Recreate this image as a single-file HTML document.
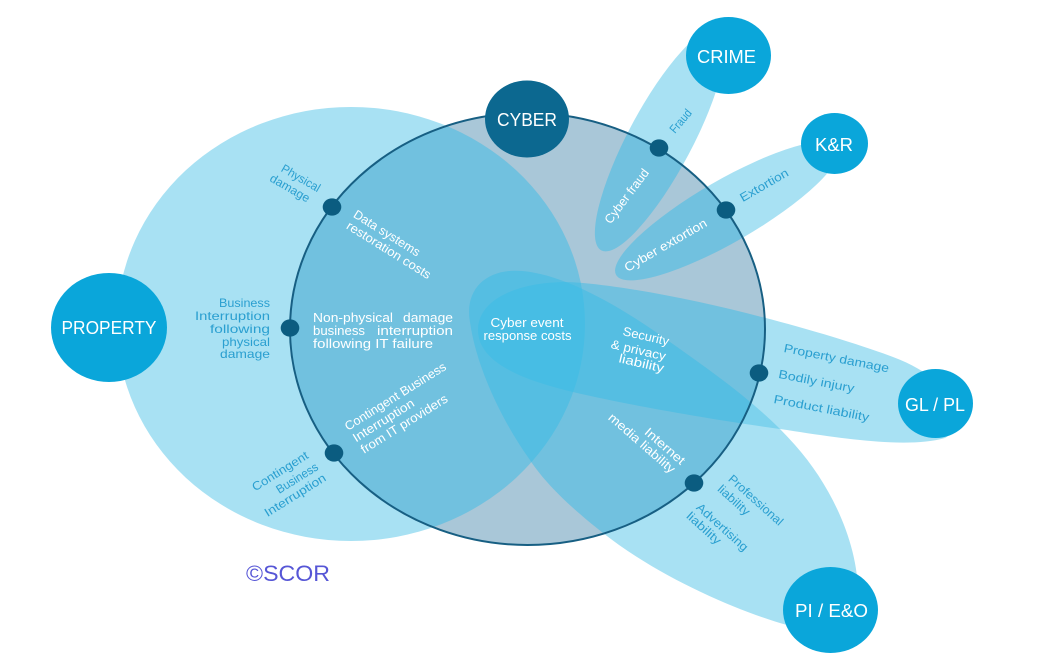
<!DOCTYPE html>
<html>
<head>
<meta charset="utf-8">
<style>
  html,body{margin:0;padding:0;background:#fff;}
  svg{display:block;}
  .tl{font-family:"Liberation Sans",sans-serif;font-size:12px;fill:#2a9fd0;text-anchor:middle;}
  .tr{font-family:"Liberation Sans",sans-serif;font-size:12px;fill:#2a9fd0;text-anchor:end;}
  .wl{font-family:"Liberation Sans",sans-serif;font-size:12.5px;fill:#ffffff;text-anchor:middle;}
  .ws{font-family:"Liberation Sans",sans-serif;font-size:12.5px;fill:#ffffff;text-anchor:start;}
  .we{font-family:"Liberation Sans",sans-serif;font-size:12.5px;fill:#ffffff;text-anchor:end;}
  .big{font-family:"Liberation Sans",sans-serif;font-size:18px;fill:#ffffff;text-anchor:middle;}
</style>
</head>
<body>
<svg width="1038" height="665" viewBox="0 0 1038 665" xmlns="http://www.w3.org/2000/svg">
  <defs>
    <clipPath id="cy"><ellipse cx="527.5" cy="329" rx="237.5" ry="216"/></clipPath>
  </defs>
  <rect x="0" y="0" width="1038" height="665" fill="#ffffff"/>

  <!-- outer shapes -->
  <g fill="#51c3e7" fill-opacity="0.5">
    <ellipse cx="351" cy="324" rx="234" ry="217"/>
    <ellipse cx="660" cy="140" rx="125" ry="32" transform="rotate(-62 660 140)"/>
    <ellipse cx="727" cy="211" rx="128" ry="31" transform="rotate(-30 727 211)"/>
    <path d="M 478,330 C 478,295 530,278 583,283 C 680,292 820,330 893,357 C 950,378 975,420 945,438 C 910,448 850,440 787,430 C 700,418 620,403 577,393 C 530,382 478,365 478,330 Z"/>
    <path d="M 470,322 C 464,288 488,268 522,271 C 560,274 610,300 660,335 C 710,370 760,405 795,445 C 835,490 860,550 858,600 C 856,645 825,648 787,625 C 740,612 660,578 603,533 C 565,503 543,480 530,460 C 500,418 476,365 470,322 Z"/>
  </g>

  <!-- cyber base -->
  <ellipse cx="527.5" cy="329" rx="237.5" ry="216" fill="#a9c7d8"/>

  <!-- inner shapes -->
  <g clip-path="url(#cy)" fill="#39bbe6" fill-opacity="0.5">
    <ellipse cx="351" cy="324" rx="234" ry="217"/>
    <ellipse cx="660" cy="140" rx="125" ry="32" transform="rotate(-62 660 140)"/>
    <ellipse cx="727" cy="211" rx="128" ry="31" transform="rotate(-30 727 211)"/>
    <path d="M 478,330 C 478,295 530,278 583,283 C 680,292 820,330 893,357 C 950,378 975,420 945,438 C 910,448 850,440 787,430 C 700,418 620,403 577,393 C 530,382 478,365 478,330 Z"/>
    <path d="M 470,322 C 464,288 488,268 522,271 C 560,274 610,300 660,335 C 710,370 760,405 795,445 C 835,490 860,550 858,600 C 856,645 825,648 787,625 C 740,612 660,578 603,533 C 565,503 543,480 530,460 C 500,418 476,365 470,322 Z"/>
  </g>

  <!-- cyber outline -->
  <ellipse cx="527.5" cy="329" rx="237.5" ry="216" fill="none" stroke="#175f83" stroke-width="2"/>

  <!-- teal outside labels -->
  <text class="tl" transform="translate(301,178) rotate(30)" y="4.2" textLength="43" lengthAdjust="spacingAndGlyphs">Physical</text>
  <text class="tl" transform="translate(290,188) rotate(30)" y="4.2" textLength="44" lengthAdjust="spacingAndGlyphs">damage</text>

  <text class="tr" x="270" y="307" textLength="51" lengthAdjust="spacingAndGlyphs">Business</text>
  <text class="tr" x="270" y="320" textLength="75" lengthAdjust="spacingAndGlyphs">Interruption</text>
  <text class="tr" x="270" y="333" textLength="60" lengthAdjust="spacingAndGlyphs">following</text>
  <text class="tr" x="270" y="346" textLength="48" lengthAdjust="spacingAndGlyphs">physical</text>
  <text class="tr" x="270" y="358" textLength="50" lengthAdjust="spacingAndGlyphs">damage</text>

  <text class="tl" transform="translate(280,471) rotate(-32)" y="4.2" textLength="64" lengthAdjust="spacingAndGlyphs">Contingent</text>
  <text class="tl" transform="translate(297,478) rotate(-32)" y="4.2" textLength="47" lengthAdjust="spacingAndGlyphs">Business</text>
  <text class="tl" transform="translate(295,495) rotate(-32)" y="4.2" textLength="70" lengthAdjust="spacingAndGlyphs">Interruption</text>

  <text class="tl" transform="translate(680.5,121) rotate(-50)" y="4.2" textLength="27" lengthAdjust="spacingAndGlyphs">Fraud</text>
  <text class="tl" transform="translate(764,185) rotate(-30)" y="4.2" textLength="54" lengthAdjust="spacingAndGlyphs">Extortion</text>

  <text class="tl" transform="translate(836.5,358) rotate(11)" y="4.2" textLength="107" lengthAdjust="spacingAndGlyphs">Property damage</text>
  <text class="tl" transform="translate(816.5,381) rotate(11)" y="4.2" textLength="77" lengthAdjust="spacingAndGlyphs">Bodily injury</text>
  <text class="tl" transform="translate(821.5,408) rotate(11)" y="4.2" textLength="97" lengthAdjust="spacingAndGlyphs">Product liability</text>

  <text class="tl" transform="translate(756,500) rotate(42)" y="4.2" textLength="69" lengthAdjust="spacingAndGlyphs">Professional</text>
  <text class="tl" transform="translate(734,500) rotate(42)" y="4.2" textLength="39" lengthAdjust="spacingAndGlyphs">liability</text>
  <text class="tl" transform="translate(722.5,527) rotate(42)" y="4.2" textLength="65" lengthAdjust="spacingAndGlyphs">Advertising</text>
  <text class="tl" transform="translate(704,528) rotate(42)" y="4.2" textLength="42" lengthAdjust="spacingAndGlyphs">liability</text>

  <!-- white inner labels -->
  <text class="wl" transform="translate(387,233) rotate(32)" y="4.4" textLength="76" lengthAdjust="spacingAndGlyphs">Data systems</text>
  <text class="wl" transform="translate(389,250) rotate(32)" y="4.4" textLength="97" lengthAdjust="spacingAndGlyphs">restoration costs</text>

  <text class="ws" x="313" y="322" textLength="80" lengthAdjust="spacingAndGlyphs">Non-physical</text>
  <text class="we" x="453" y="322" textLength="50" lengthAdjust="spacingAndGlyphs">damage</text>
  <text class="ws" x="313" y="335" textLength="52" lengthAdjust="spacingAndGlyphs">business</text>
  <text class="we" x="453" y="335" textLength="76" lengthAdjust="spacingAndGlyphs">interruption</text>
  <text class="ws" x="313" y="348" textLength="120" lengthAdjust="spacingAndGlyphs">following IT failure</text>

  <text class="ws" transform="translate(348,431) rotate(-32)" textLength="117" lengthAdjust="spacingAndGlyphs">Contingent Business</text>
  <text class="ws" transform="translate(356,442.5) rotate(-32)" textLength="70" lengthAdjust="spacingAndGlyphs">Interruption</text>
  <text class="ws" transform="translate(364,454) rotate(-32)" textLength="100" lengthAdjust="spacingAndGlyphs">from IT providers</text>

  <text class="wl" x="527" y="327" textLength="73" lengthAdjust="spacingAndGlyphs">Cyber event</text>
  <text class="wl" x="527.5" y="340" textLength="88" lengthAdjust="spacingAndGlyphs">response costs</text>

  <text class="wl" transform="translate(646,336) rotate(13)" y="4.4" textLength="47" lengthAdjust="spacingAndGlyphs">Security</text>
  <text class="wl" transform="translate(638.5,350) rotate(13)" y="4.4" textLength="56" lengthAdjust="spacingAndGlyphs">&amp; privacy</text>
  <text class="wl" transform="translate(641.5,363) rotate(13)" y="4.4" textLength="46" lengthAdjust="spacingAndGlyphs">liability</text>

  <text class="wl" transform="translate(665,446) rotate(41)" y="4.4" textLength="49" lengthAdjust="spacingAndGlyphs">Internet</text>
  <text class="wl" transform="translate(642,443) rotate(41)" y="4.4" textLength="84" lengthAdjust="spacingAndGlyphs">media liability</text>

  <text class="wl" transform="translate(626.5,196) rotate(-53)" y="4.4" textLength="65" lengthAdjust="spacingAndGlyphs">Cyber fraud</text>
  <text class="wl" transform="translate(665.5,245) rotate(-30)" y="4.4" textLength="93" lengthAdjust="spacingAndGlyphs">Cyber extortion</text>

  <!-- category circles -->
  <ellipse cx="109" cy="327.5" rx="58" ry="54.5" fill="#0aa6da"/>
  <text class="big" x="109" y="334" font-size="17.5" textLength="95" lengthAdjust="spacingAndGlyphs">PROPERTY</text>

  <ellipse cx="527" cy="119" rx="42" ry="38.5" fill="#0c6890"/>
  <text class="big" x="527" y="126" textLength="60" lengthAdjust="spacingAndGlyphs">CYBER</text>

  <ellipse cx="728.5" cy="55.5" rx="42.5" ry="38.5" fill="#0aa6da"/>
  <text class="big" x="726.5" y="63" textLength="59" lengthAdjust="spacingAndGlyphs">CRIME</text>

  <ellipse cx="834.5" cy="143.5" rx="33.5" ry="30.5" fill="#0aa6da"/>
  <text class="big" x="834" y="151" textLength="38" lengthAdjust="spacingAndGlyphs">K&amp;R</text>

  <ellipse cx="935.5" cy="403.5" rx="37.5" ry="34.5" fill="#0aa6da"/>
  <text class="big" x="935" y="411" textLength="60" lengthAdjust="spacingAndGlyphs">GL / PL</text>

  <ellipse cx="830.5" cy="610" rx="47.5" ry="43" fill="#0aa6da"/>
  <text class="big" x="831.5" y="617" textLength="73" lengthAdjust="spacingAndGlyphs">PI / E&amp;O</text>

  <!-- dots on cyber outline -->
  <g fill="#0b5c80">
    <ellipse cx="332" cy="207" rx="9.3" ry="8.6"/>
    <ellipse cx="290" cy="328" rx="9.3" ry="8.6"/>
    <ellipse cx="334" cy="453" rx="9.3" ry="8.6"/>
    <ellipse cx="659" cy="148" rx="9.3" ry="8.6"/>
    <ellipse cx="726" cy="210" rx="9.3" ry="8.6"/>
    <ellipse cx="759" cy="373" rx="9.3" ry="8.6"/>
    <ellipse cx="694" cy="483" rx="9.3" ry="8.6"/>
  </g>

  <!-- copyright -->
  <text x="246" y="581" font-family="Liberation Sans, sans-serif" font-size="22" fill="#5656d6" textLength="84" lengthAdjust="spacingAndGlyphs">©SCOR</text>
</svg>
</body>
</html>
